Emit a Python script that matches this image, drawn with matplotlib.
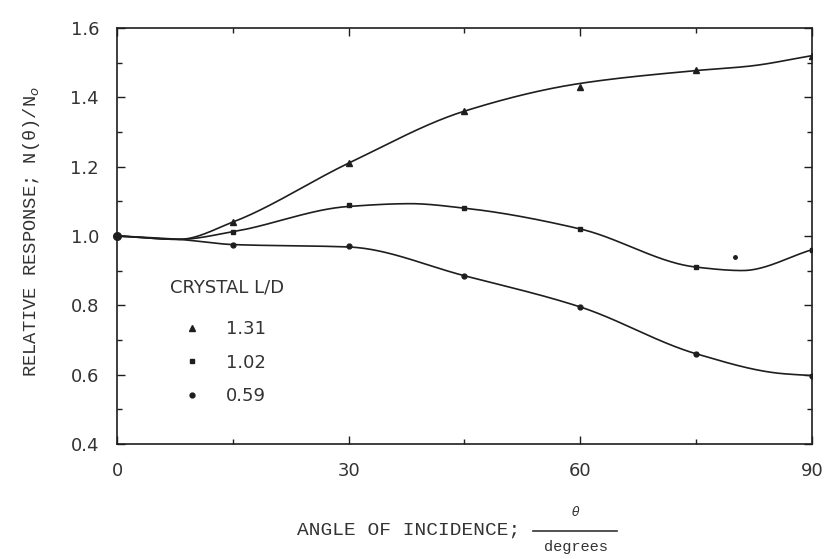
import numpy as np
import matplotlib
matplotlib.use("Agg")
import matplotlib.pyplot as plt
from matplotlib.ticker import MultipleLocator, FormatStrFormatter

# angles (degrees) where the responses were measured
angles = [15, 30, 45, 60, 75, 90]

# relative response N(theta)/N0 for each crystal L/D
resp_131 = [1.04, 1.21, 1.36, 1.43, 1.48, 1.52]
resp_102 = [1.01, 1.09, 1.08, 1.02, 0.91, 0.96]
resp_059 = [0.975, 0.97, 0.885, 0.795, 0.66, 0.597]

# lone extra point near 80 degrees (1.02 crystal)
extra_angle = [80]
extra_resp = [0.94]

# normal incidence reference
ref_angle = [0]
ref_resp = [1.0]

# hand-fitted curves through the points
fit_x_131 = [0, 8, 15, 30, 45, 60, 75, 82, 90]
fit_y_131 = [1.0, 0.99, 1.04, 1.21, 1.36, 1.44, 1.477, 1.49, 1.52]
fit_x_102 = [0, 8, 15, 30, 38, 45, 60, 75, 81, 90]
fit_y_102 = [1.0, 0.99, 1.012, 1.085, 1.093, 1.08, 1.02, 0.91, 0.9, 0.96]
fit_x_059 = [0, 8, 15, 30, 45, 60, 75, 86, 90]
fit_y_059 = [1.0, 0.99, 0.975, 0.968, 0.885, 0.795, 0.66, 0.603, 0.597]

labels = ["1.31", "1.02", "0.59"]


def smooth(xk, yk, n=400):
    # monotone cubic (Fritsch-Carlson) through the knots
    xk = np.asarray(xk, float)
    yk = np.asarray(yk, float)
    h = np.diff(xk)
    d = np.diff(yk) / h
    m = np.zeros_like(yk)
    m[0], m[-1] = d[0], d[-1]
    for k in range(1, len(xk) - 1):
        if d[k - 1] * d[k] > 0:
            w1 = 2 * h[k] + h[k - 1]
            w2 = h[k] + 2 * h[k - 1]
            m[k] = (w1 + w2) / (w1 / d[k - 1] + w2 / d[k])
    xs = np.linspace(xk[0], xk[-1], n)
    i = np.clip(np.searchsorted(xk, xs) - 1, 0, len(xk) - 2)
    hh = h[i]
    t = (xs - xk[i]) / hh
    h00 = 2 * t**3 - 3 * t**2 + 1
    h10 = t**3 - 2 * t**2 + t
    h01 = -2 * t**3 + 3 * t**2
    h11 = t**3 - t**2
    ys = h00 * yk[i] + h10 * hh * m[i] + h01 * yk[i + 1] + h11 * hh * m[i + 1]
    return xs, ys


ink = "#1e1e1e"
txt = "#333333"
fig = plt.figure(figsize=(8.25, 5.59), dpi=100)
ax = fig.add_axes([0.142, 0.206, 0.842, 0.744])

for fx, fy in [(fit_x_131, fit_y_131), (fit_x_102, fit_y_102), (fit_x_059, fit_y_059)]:
    xs, ys = smooth(fx, fy)
    ax.plot(xs, ys, color=ink, lw=1.2, zorder=2)

h1, = ax.plot(angles, resp_131, ls="none", marker="^", ms=4, color=ink, zorder=3)
h2, = ax.plot(angles, resp_102, ls="none", marker="s", ms=3.5, color=ink, zorder=3)
h3, = ax.plot(angles, resp_059, ls="none", marker="o", ms=3.5, color=ink, zorder=3)
ax.plot(extra_angle, extra_resp, ls="none", marker="o", ms=2.5, color=ink, zorder=3)
ax.plot(ref_angle, ref_resp, ls="none", marker="o", ms=5.5, color=ink, zorder=4, clip_on=False)

ax.set_xlim(0, 90)
ax.set_ylim(0.4, 1.6)
ax.xaxis.set_major_locator(MultipleLocator(30))
ax.xaxis.set_minor_locator(MultipleLocator(15))
ax.yaxis.set_major_locator(MultipleLocator(0.2))
ax.yaxis.set_minor_locator(MultipleLocator(0.1))
ax.yaxis.set_major_formatter(FormatStrFormatter("%.1f"))
ax.tick_params(which="both", direction="in", top=True, right=True, colors=ink,
               labelsize=13, labelcolor=txt)
ax.tick_params(which="major", length=6, width=1)
ax.tick_params(which="minor", length=3.5, width=1)
ax.tick_params(axis="x", pad=13)
ax.tick_params(axis="y", pad=13)
for s in ax.spines.values():
    s.set_color(ink)
    s.set_linewidth(1.2)

# legend heading as its own text, entries below it
ax.text(0.076, 0.375, "CRYSTAL L/D", transform=ax.transAxes, ha="left",
        va="center", fontsize=13, color=txt)
leg = ax.legend([h1, h2, h3], labels, loc="upper left",
                bbox_to_anchor=(0.060, 0.315), frameon=False, fontsize=13,
                handlelength=2.9, handletextpad=0.4,
                labelspacing=0.87, borderaxespad=0)
for t in leg.get_texts():
    t.set_color(txt)

mono = "Liberation Mono"
fig.text(0.038, 0.585, "RELATIVE RESPONSE; N(\u03b8)/N$_o$", rotation=90,
         ha="center", va="center", fontsize=13.5, family=mono, color=txt)
fig.text(0.495, 0.052, "ANGLE OF INCIDENCE;", ha="center", va="center",
         fontsize=14, family=mono, color=txt)
fig.text(0.698, 0.084, "\u03b8", ha="center", va="center", fontsize=9,
         style="italic", color=txt)
fig.add_artist(plt.Line2D([0.646, 0.748], [0.050, 0.050], color=txt, lw=1.2))
fig.text(0.698, 0.021, "degrees", ha="center", va="center", fontsize=11,
         family=mono, color=txt)

fig.savefig("out.png", dpi=100)
